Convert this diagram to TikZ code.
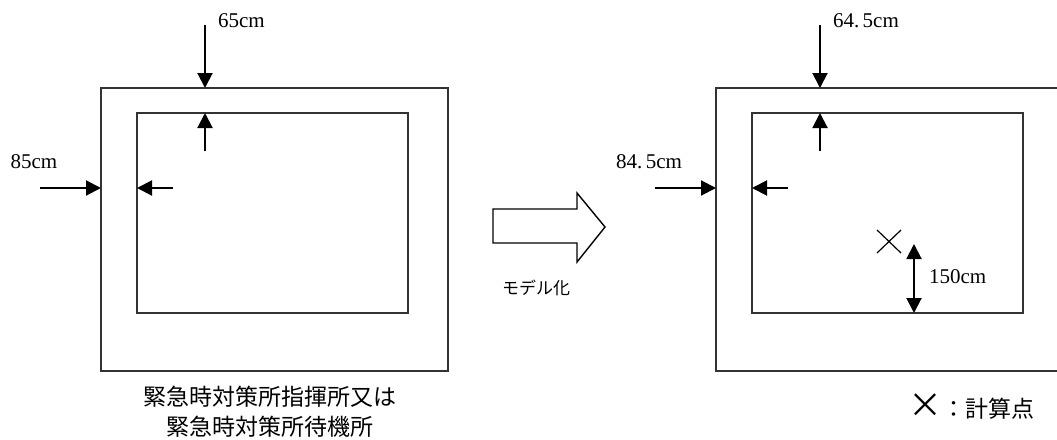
\documentclass[tikz,border=0pt]{standalone}
\usepackage{fontspec}
\setmainfont{Liberation Serif}
\newfontfamily\jpfont{Noto Sans CJK JP}
\usetikzlibrary{arrows.meta}
\begin{document}
\begin{tikzpicture}[x=1pt, y=-1pt, >={Triangle[length=15pt,width=15pt]}, line width=2pt,
  wall/.style={draw=black!80, line width=1.6pt},
  dim/.style={font=\fontsize{21}{21}\selectfont, inner sep=0pt},
  jp/.style={font=\jpfont\fontsize{23}{30}\selectfont, inner sep=0pt, align=center}]
\useasboundingbox (0,0) rectangle (1057,439);

\foreach \dx/\n/\toplab/\leftlab in {0/a/65cm/85cm, 615/b/{64.\,5cm}/{84.\,5cm}}
{
  \begin{scope}[shift={(\dx,0)}]
    \draw[wall] (101,88) rectangle (448,371);
    \draw[wall] (137,113) rectangle (408,313);
    \coordinate (\n-t0) at (205,25);
    \coordinate (\n-t1) at (205,88);
    \coordinate (\n-t2) at (205,151);
    \coordinate (\n-t3) at (205,113);
    \coordinate (\n-l0) at (40,188);
    \coordinate (\n-l1) at (101,188);
    \coordinate (\n-l2) at (173,188);
    \coordinate (\n-l3) at (137,188);
    \draw[->] (\n-t0) -- (\n-t1);
    \draw[->] (\n-t2) -- (\n-t3);
    \draw[->] (\n-l0) -- (\n-l1);
    \draw[->] (\n-l2) -- (\n-l3);
    \node[dim, anchor=west] (\n-toplab) at (217,21) {\toplab};
    \node[dim] (\n-leftlab) at (34,162) {\leftlab};
  \end{scope}
}

% block arrow
\draw[line width=1.4pt] (493,209) -- (577,209) -- (577,193) -- (605,227) -- (577,262)
  -- (577,243) -- (493,243) -- cycle;
\node[jp, font=\jpfont\fontsize{17}{17}\selectfont] (model) at (536,288) {モデル化};

\node[jp] (room) at (270,412) {緊急時対策所指揮所又は\\緊急時対策所待機所};

% calculation point
\draw[line width=1.2pt] (877,230) -- (901,253) (877,253) -- (901,230);
\coordinate (h0) at (914,244);
\coordinate (h1) at (914,313);
\draw[<->] (h0) -- (h1);
\node[dim, anchor=west] (hlab) at (928,277) {150cm};

\node[jp] (legend) at (971,407) {{\fontsize{34}{30}\selectfont ×}：計算点};
\end{tikzpicture}
\end{document}
